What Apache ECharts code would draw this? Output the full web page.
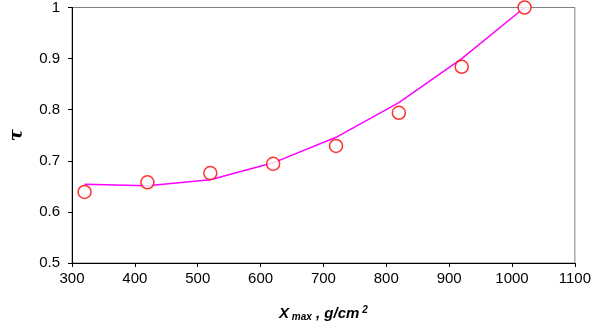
<!DOCTYPE html>
<html>
<head>
<meta charset="utf-8">
<script src="https://cdn.jsdelivr.net/npm/echarts@6/dist/echarts.min.js"></script>
<style>html,body{margin:0;padding:0;background:#fff}#c{width:594px;height:335px}</style>
</head>
<body>
<div id="c"></div>
<script>
var xValues = [320, 420, 520, 620, 720, 820, 920, 1020];
var pointValues = [0.639, 0.658, 0.676, 0.694, 0.729, 0.794, 0.884, 1.0];
var lineValues = [0.654, 0.651, 0.663, 0.696, 0.746, 0.814, 0.900, 1.0];
var xTicks = [300, 400, 500, 600, 700, 800, 900, 1000, 1100];
var yTicks = [0.5, 0.6, 0.7, 0.8, 0.9, 1];

var chart = echarts.init(document.getElementById('c'), null, {renderer: 'canvas'});
var font = 'Liberation Sans, Arial, sans-serif';
chart.setOption({
  animation: false,
  grid: {left: 70, right: 19, top: 7, bottom: 72, show: true, borderColor: '#808080', borderWidth: 1, backgroundColor: '#fff'},
  xAxis: {
    type: 'value', min: xTicks[0], max: xTicks[xTicks.length - 1], interval: 100,
    axisLine: {show: true, lineStyle: {color: '#000', width: 1}},
    axisTick: {show: true, length: 4, lineStyle: {color: '#000'}},
    splitLine: {show: false},
    axisLabel: {color: '#000', fontSize: 15, fontFamily: font, margin: 8, formatter: function (v) { return String(v); }},
    name: '{b|X}{s| max}{b| , g/cm}{p|2}',
    nameLocation: 'middle', nameGap: 42,
    nameTextStyle: {
      rich: {
        b: {fontSize: 15, fontWeight: 'bold', fontStyle: 'italic', fontFamily: font, color: '#000'},
        s: {fontSize: 10, fontWeight: 'bold', fontStyle: 'italic', fontFamily: font, color: '#000', verticalAlign: 'bottom', padding: [7, 0, 0, 0]},
        p: {fontSize: 10, fontWeight: 'bold', fontStyle: 'italic', fontFamily: font, color: '#000', verticalAlign: 'top', padding: [0, 0, 7, 3]}
      }
    }
  },
  yAxis: {
    type: 'value', min: yTicks[0], max: yTicks[yTicks.length - 1], interval: 0.1,
    axisLine: {show: true, lineStyle: {color: '#000', width: 1}},
    axisTick: {show: true, length: 4, lineStyle: {color: '#000'}},
    splitLine: {show: false},
    axisLabel: {color: '#000', fontSize: 15, fontFamily: font, margin: 12, formatter: function (v) { return String(Math.round(v * 10) / 10); }},
    name: 'τ', nameLocation: 'middle', nameGap: 46, nameRotate: 90,
    nameTextStyle: {fontSize: 18, fontWeight: 'bold', fontStyle: 'italic', fontFamily: 'DejaVu Serif, serif', color: '#000'}
  },
  series: [
    {
      type: 'line', data: xValues.map(function (x, i) { return [x, lineValues[i]]; }),
      showSymbol: false, symbol: 'none',
      lineStyle: {color: '#FF00FF', width: 1.5}, z: 2
    },
    {
      type: 'scatter', data: xValues.map(function (x, i) { return [x, pointValues[i]]; }),
      symbol: 'circle', symbolSize: 13,
      itemStyle: {color: '#fff', borderColor: '#FF0000', borderWidth: 1.5}, z: 3
    }
  ]
});
</script>
</body>
</html>
